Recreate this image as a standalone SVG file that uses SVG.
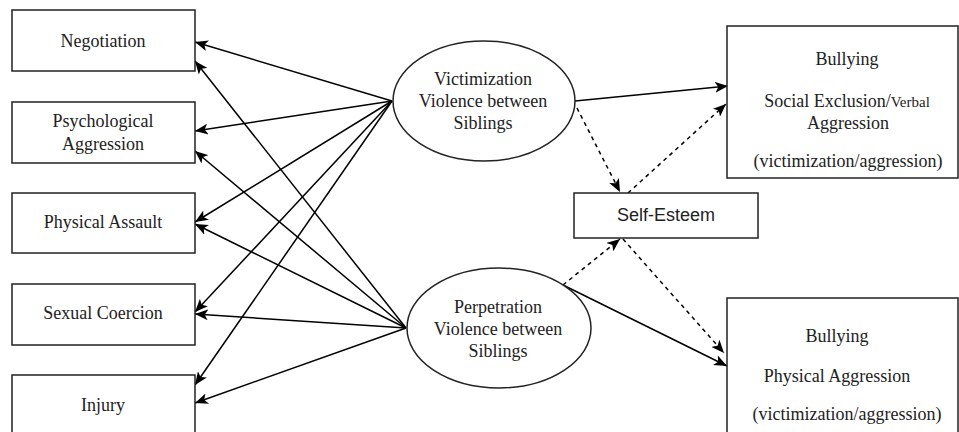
<svg xmlns="http://www.w3.org/2000/svg" width="959" height="432" viewBox="0 0 959 432">
<style>
.box{fill:#fff;stroke:#222;stroke-width:1.5}
.t{font-family:"Liberation Serif","Times New Roman",serif;font-size:18px;fill:#222;text-anchor:middle}
.s{font-family:"Liberation Sans",Arial,sans-serif;font-size:18px;fill:#222;text-anchor:middle}
.c{fill:none;stroke:#000;stroke-width:1.5;marker-end:url(#ah)}
.d{stroke-dasharray:4 4}
</style>
<defs>
<marker id="ah" viewBox="0 0 12 10" refX="12" refY="5" markerWidth="13" markerHeight="11" markerUnits="userSpaceOnUse" orient="auto">
<path d="M0,0 L12,5 L0,10 L3,5 z" fill="#000"/>
</marker>
</defs>
<rect width="959" height="432" fill="#fff"/>
<g id="connectors">
<line class="c" x1="392" y1="101" x2="195" y2="42"/>
<line class="c" x1="392" y1="101" x2="195" y2="131"/>
<line class="c" x1="392" y1="101" x2="195" y2="222"/>
<line class="c" x1="392" y1="101" x2="195" y2="312"/>
<line class="c" x1="392" y1="101" x2="195" y2="385"/>
<line class="c" x1="406" y1="328" x2="195" y2="61"/>
<line class="c" x1="406" y1="328" x2="195" y2="151"/>
<line class="c" x1="406" y1="328" x2="195" y2="224"/>
<line class="c" x1="406" y1="328" x2="195" y2="314"/>
<line class="c" x1="406" y1="328" x2="195" y2="403"/>
<line class="c" x1="575" y1="101" x2="728" y2="86"/>
<line class="c d" x1="577" y1="108" x2="620" y2="192"/>
<line class="c d" x1="628" y1="193" x2="726" y2="104"/>
<line class="c d" x1="563" y1="285" x2="620" y2="239"/>
<line class="c d" x1="623" y1="239" x2="724" y2="353"/>
<line class="c" x1="563" y1="285" x2="727" y2="366"/>
</g>
<g id="negotiation"><rect class="box" x="12" y="10" width="183" height="61"/><text class="t" x="103" y="47">Negotiation</text></g>
<g id="psychological"><rect class="box" x="12" y="102" width="183" height="61"/><text class="t" x="103" y="127">Psychological</text><text class="t" x="103" y="150">Aggression</text></g>
<g id="physical"><rect class="box" x="12" y="193" width="183" height="60"/><text class="t" x="103" y="228">Physical Assault</text></g>
<g id="sexual"><rect class="box" x="12" y="284" width="183" height="61"/><text class="t" x="103" y="319">Sexual Coercion</text></g>
<g id="injury"><rect class="box" x="12" y="375" width="183" height="62"/><text class="t" x="103" y="411">Injury</text></g>
<g id="victimization"><ellipse class="box" cx="484" cy="101" rx="91" ry="60"/><text class="t" x="483" y="85">Victimization</text><text class="t" x="483" y="107">Violence between</text><text class="t" x="483" y="129">Siblings</text></g>
<g id="perpetration"><ellipse class="box" cx="499" cy="328" rx="92" ry="60"/><text class="t" x="498" y="313">Perpetration</text><text class="t" x="498" y="335">Violence between</text><text class="t" x="498" y="357">Siblings</text></g>
<g id="selfesteem"><rect class="box" x="574" y="193" width="184" height="45"/><text class="s" x="666" y="221">Self-Esteem</text></g>
<g id="bullying1"><rect class="box" x="727" y="26" width="231" height="152"/><text class="t" x="847" y="65">Bullying</text><text class="t" x="847" y="107">Social Exclusion/<tspan font-size="15">Verbal</tspan></text><text class="t" x="848" y="129">Aggression</text><text class="t" x="848" y="167">(victimization/aggression)</text></g>
<g id="bullying2"><rect class="box" x="727" y="298" width="231" height="145"/><text class="t" x="837" y="342">Bullying</text><text class="t" x="837" y="382" font-size="17">Physical Aggression</text><text class="t" x="847" y="420">(victimization/aggression)</text></g>
</svg>
